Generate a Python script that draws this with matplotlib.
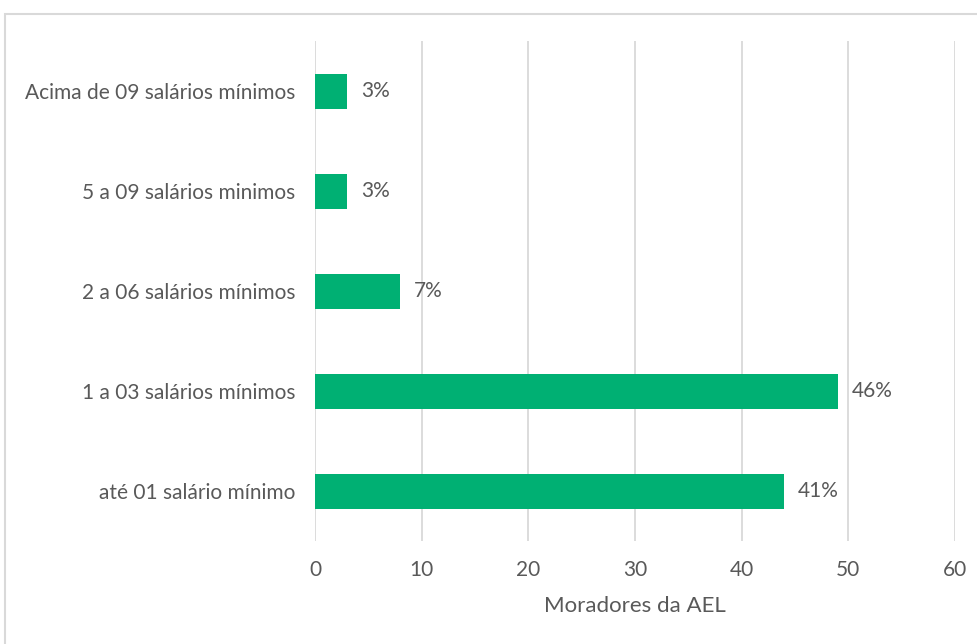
import matplotlib.pyplot as plt
from matplotlib.patches import Rectangle

# Data
categories = ['até 01 salário mínimo', '1 a 03 salários mínimos', '2 a 06 salários mínimos',
              '5 a 09 salários minimos', 'Acima de 09 salários mínimos']
values = [44, 49, 8, 3, 3]
labels = ['41%', '46%', '7%', '3%', '3%']

plt.rcParams['font.family'] = ['Lato', 'DejaVu Sans']
text_color = '#595959'
bar_color = '#00B073'
grid_color = '#D9D9D9'

fig = plt.figure(figsize=(9.77, 6.44), dpi=100)
ax = fig.add_axes([315 / 977, 1 - 541 / 644, 640 / 977, 500 / 644])

y = range(len(categories))
ax.barh(y, values, height=0.35, color=bar_color, zorder=3)
for i, (v, lab) in enumerate(zip(values, labels)):
    ax.annotate(lab, (v, i), xytext=(10, 0), textcoords='offset points',
                va='center', ha='left', fontsize=15, color=text_color)

ax.set_xlim(0, 60)
ax.set_ylim(-0.5, len(categories) - 0.5)
ax.set_xticks(range(0, 61, 10))
ax.set_yticks(list(y))
ax.set_yticklabels(categories)
ax.grid(axis='x', color=grid_color, linewidth=1.3, zorder=0)
ax.tick_params(axis='both', length=0, labelsize=15, colors=text_color)
ax.tick_params(axis='x', pad=14)
ax.tick_params(axis='y', pad=14)
for s in ax.spines.values():
    s.set_visible(False)
ax.set_xlabel('Moradores da AEL', fontsize=16, color=text_color, labelpad=11)

# light frame around the chart area (cut off at right/bottom like the original)
fig.patches.append(Rectangle((5 / 977, -0.05), 1.1, 1 - 14 / 644 + 0.05,
                             transform=fig.transFigure, fill=False,
                             edgecolor=grid_color, linewidth=1.5))

fig.savefig('out.png', dpi=100)
